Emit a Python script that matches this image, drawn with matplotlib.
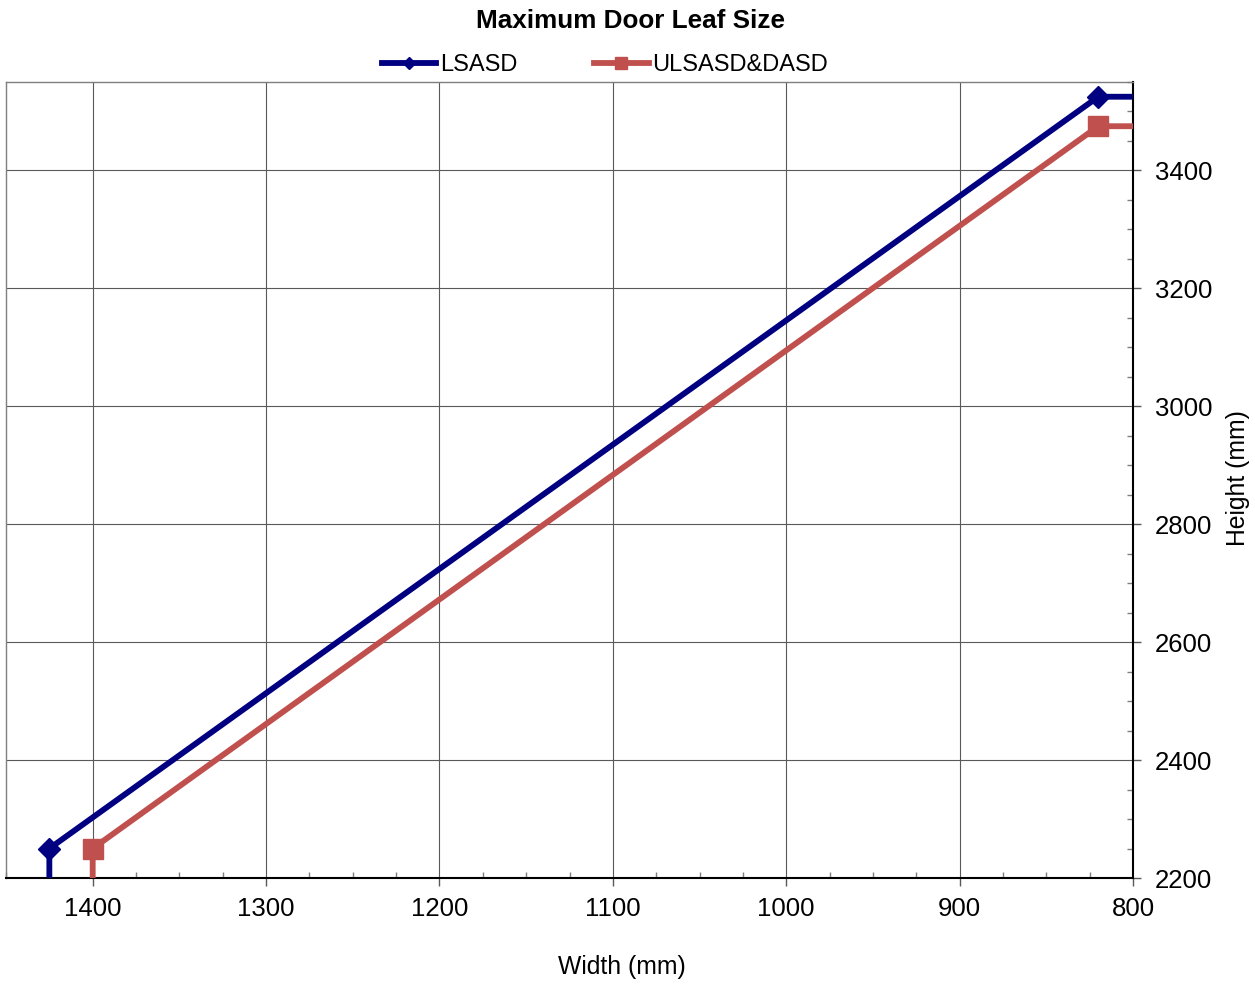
import matplotlib
matplotlib.use("Agg")
import matplotlib.pyplot as plt
from matplotlib.lines import Line2D
from matplotlib.ticker import MultipleLocator

plt.rcParams['font.family'] = ['Liberation Sans', 'DejaVu Sans']

# Door leaf envelopes: width (mm) vs height (mm); outer points run off the axes
lsasd_width = [1425, 1425, 820, 700]
lsasd_height = [2000, 2250, 3525, 3525]
ulsasd_width = [1400, 1400, 820, 700]
ulsasd_height = [2000, 2250, 3475, 3475]

x_ticks = [1400, 1300, 1200, 1100, 1000, 900, 800]
y_ticks = [2200, 2400, 2600, 2800, 3000, 3200, 3400]

blue = '#000080'
red = '#C0504D'

fig = plt.figure(figsize=(12.55, 9.9), dpi=100)
ax = fig.add_axes([6/1255, 1-878/990, (1133-6)/1255, (878-82)/990])

ax.plot(lsasd_width, lsasd_height, color=blue, lw=4.2, marker='D', ms=11.5,
        markevery=[1, 2], solid_capstyle='butt', zorder=4)
ax.plot(ulsasd_width, ulsasd_height, color=red, lw=4.2, marker='s', ms=14.5,
        markevery=[1, 2], solid_capstyle='butt', zorder=3)

ax.set_xlim(1450, 800)
ax.set_ylim(2200, 3550)
ax.set_xticks(x_ticks)
ax.set_yticks(y_ticks)
ax.xaxis.set_minor_locator(MultipleLocator(25))
ax.yaxis.set_minor_locator(MultipleLocator(50))
ax.yaxis.tick_right()
ax.yaxis.set_label_position('right')

ax.grid(which='major', color='#595959', lw=0.8)
ax.set_axisbelow(True)

ax.tick_params(which='major', direction='out', length=6, width=1, color='#595959',
               labelsize=18.5, pad=8)
ax.tick_params(axis='y', which='major', pad=10)
ax.tick_params(which='minor', direction='in', length=4, width=1, color='#7f7f7f')
ax.tick_params(axis='y', which='both', left=False, right=True)
ax.tick_params(axis='x', which='both', top=False, bottom=True)

for side in ['left', 'top']:
    ax.spines[side].set_color('#7f7f7f')
    ax.spines[side].set_linewidth(1)
for side in ['bottom', 'right']:
    ax.spines[side].set_color('black')
    ax.spines[side].set_linewidth(1.5)

fig.text(1238/1255, 1-478/990, 'Height (mm)', ha='center', va='center',
         rotation=90, fontsize=17.8)
fig.text(622/1255, 1-967/990, 'Width (mm)', ha='center', va='center', fontsize=17.8)

fig.text(631/1255, 1-21/990, 'Maximum Door Leaf Size', ha='center', va='center',
         fontsize=18.8, fontweight='bold')

handles = [
    Line2D([], [], color=blue, lw=4.2, marker='D', ms=6),
    Line2D([], [], color=red, lw=4.2, marker='s', ms=8),
]
fig.legend(handles, ['LSASD', 'ULSASD&DASD'], loc='center',
           bbox_to_anchor=(605/1255, 1-65/990), ncol=2, frameon=False,
           fontsize=17, handlelength=2.3, handletextpad=0.17, columnspacing=3.26,
           borderaxespad=0, borderpad=0)

fig.savefig('out.png', dpi=100)
